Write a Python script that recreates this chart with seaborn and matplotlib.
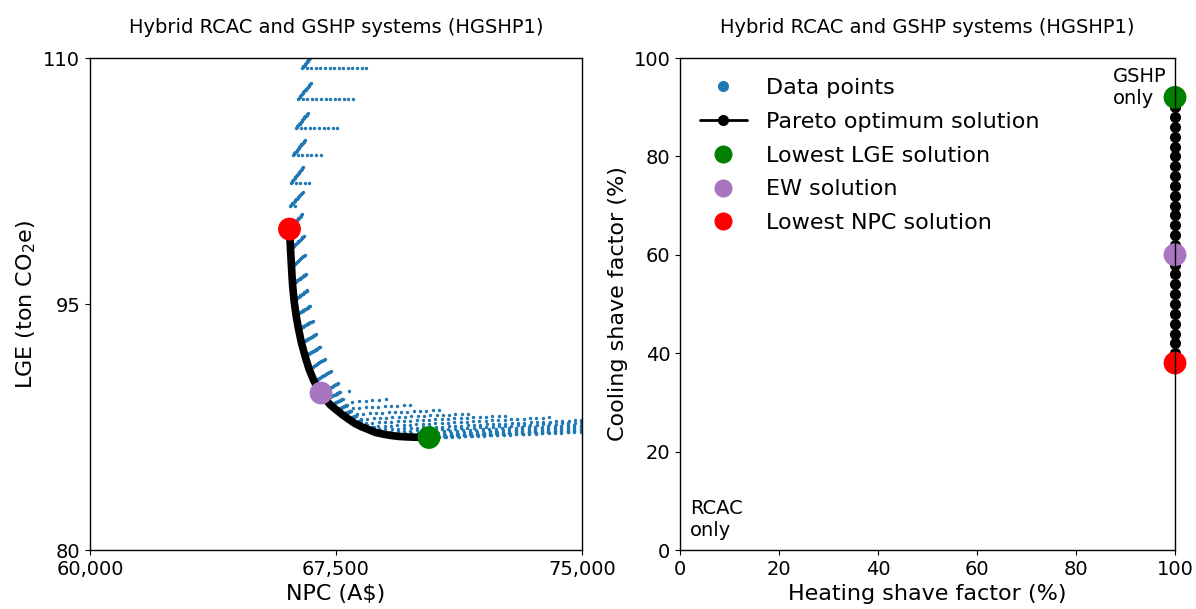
import numpy as np
import pandas as pd
import matplotlib
matplotlib.use("Agg")
import matplotlib.pyplot as plt
from matplotlib.lines import Line2D
import seaborn as sns

# ---------------------------------------------------------------------------
# Pareto optimum solutions (heating shave factor 100 %, cooling 38-92 %)
# ---------------------------------------------------------------------------
pareto_cooling = [38, 40, 42, 44, 46, 48, 50, 52, 54, 56, 58, 60, 62, 64,
                  66, 68, 70, 72, 74, 76, 78, 80, 82, 84, 86, 88, 90, 92]
pareto_heating = [100] * len(pareto_cooling)
pareto_npc = [66082, 66113, 66143, 66174, 66220, 66281, 66357, 66448, 66555,
              66677, 66829, 67043, 67174, 67326, 67506, 67686, 67875, 68064,
              68271, 68485, 68701, 68927, 69155, 69384, 69616, 69848, 70079,
              70335]
pareto_lge = [99.57, 98.35, 97.26, 96.22, 95.24, 94.33, 93.48, 92.62, 91.83,
              91.04, 90.30, 89.57, 89.20, 88.85, 88.55, 88.26, 87.99, 87.73,
              87.52, 87.35, 87.17, 87.07, 86.99, 86.93, 86.90, 86.88, 86.87,
              86.86]

# Highlighted solutions
solution_labels = ["Lowest LGE solution", "EW solution", "Lowest NPC solution"]
solution_heating = [100, 100, 100]
solution_cooling = [92, 60, 38]
solution_npc = [70335, 67043, 66082]
solution_lge = [86.86, 89.57, 99.57]

# ---------------------------------------------------------------------------
# Evaluated design points, one row per cooling shave factor:
# a dense stroke from its base point to its top point, plus a run of points
# ---------------------------------------------------------------------------
upper_base_npc = [66463, 66341, 66281, 66189, 66128, 66098]
upper_base_lge = [109.39, 107.50, 105.73, 104.08, 102.38, 100.98]

stroke_top_npc = [66799, 66738, 66646, 66555, 66494, 66494,
                  66463, 66524, 66540, 66585, 66631, 66707, 66784, 66890,
                  67012, 67165, 67348, 67561,
                  67622, 67713, 67835, 67957, 68110, 68262, 68445, 68659,
                  68841, 69055, 69268, 69482, 69695, 69909, 70152, 70396]
stroke_top_lge = [110.24, 108.48, 106.65, 105.00, 103.35, 101.83,
                  100.49, 99.15, 97.99, 96.83, 95.85, 94.88, 93.96, 93.17,
                  92.38, 91.65, 90.91, 90.18,
                  89.63, 89.21, 88.84, 88.48, 88.20, 87.90, 87.65, 87.47,
                  87.29, 87.16, 87.07, 86.98, 86.93, 86.91, 86.89, 86.87]

run_start_npc = [66603, 66481, 66421, 66329, 66268, 66238,
                 67896, 67988, 68018, 68140, 68262, 68415, 68598, 68811,
                 68994, 69207, 69421, 69634, 69817, 70030, 70244, 70457]
run_start_lge = [109.39, 107.50, 105.73, 104.08, 102.38, 100.98,
                 89.70, 89.05, 88.66, 88.29, 87.99, 87.74, 87.53, 87.35,
                 87.20, 87.07, 86.99, 86.91, 86.88, 86.88, 86.87, 86.86]
run_end_npc = [68423, 68021, 67541, 67029, 66688, 66238,
               67896, 69024, 69756, 70640, 71524, 72652, 73994, 75366,
               75549, 75549, 75549, 75549, 75549, 75549, 75549, 75549]
run_end_lge = [109.39, 107.50, 105.73, 104.08, 102.38, 100.98,
               89.70, 89.18, 88.84, 88.54, 88.32, 88.20, 88.08, 87.96,
               87.84, 87.71, 87.59, 87.50, 87.41, 87.35, 87.29, 87.24]
run_count = [14, 12, 9, 6, 4, 1,
             1, 6, 10, 14, 18, 23, 29, 35, 35, 33, 32, 31, 30, 29, 28, 27]

# Axis ticks
npc_ticks = [60000, 67500, 75000]
lge_ticks = [80, 95, 110]
factor_ticks = [0, 20, 40, 60, 80, 100]

TITLE = "Hybrid RCAC and GSHP systems (HGSHP1)"

# ---------------------------------------------------------------------------
# Build the point table
# ---------------------------------------------------------------------------
base_npc = upper_base_npc + pareto_npc
base_lge = upper_base_lge + pareto_lge
STROKE_STEPS = 18

pts_npc, pts_lge = [], []
for bx, by, tx, ty in zip(base_npc, base_lge, stroke_top_npc, stroke_top_lge):
    pts_npc.extend(np.linspace(bx, tx, STROKE_STEPS))
    pts_lge.extend(np.linspace(by, ty, STROKE_STEPS))
for sx, sy, ex, ey, n in zip(run_start_npc, run_start_lge,
                             run_end_npc, run_end_lge, run_count):
    pts_npc.extend(np.linspace(sx, ex, n))
    pts_lge.extend(np.linspace(sy, ey, n))
points = pd.DataFrame({"NPC": pts_npc, "LGE": pts_lge})

pareto = pd.DataFrame({"NPC": pareto_npc, "LGE": pareto_lge,
                       "Heating": pareto_heating, "Cooling": pareto_cooling})
solutions = pd.DataFrame({"label": solution_labels, "NPC": solution_npc,
                          "LGE": solution_lge, "Heating": solution_heating,
                          "Cooling": solution_cooling})

# ---------------------------------------------------------------------------
# Style
# ---------------------------------------------------------------------------
sns.set_style("ticks")
plt.rcParams.update({
    "font.family": ["DejaVu Sans"],
    "axes.edgecolor": "black",
    "axes.linewidth": 1.0,
    "xtick.color": "black",
    "ytick.color": "black",
    "text.color": "black",
    "axes.labelcolor": "black",
    "xtick.major.size": 3.5,
    "ytick.major.size": 3.5,
    "xtick.major.width": 0.8,
    "ytick.major.width": 0.8,
    "xtick.labelsize": 14,
    "ytick.labelsize": 14,
})

BLUE = "#1f77b4"
sol_palette = {"Lowest LGE solution": "#008000",
               "EW solution": "#a875c0",
               "Lowest NPC solution": "#ff0000"}

fig = plt.figure(figsize=(11.96, 6.09), dpi=100)
ax1 = fig.add_axes([90 / 1196, 59 / 609, 492 / 1196, 492 / 609])
ax2 = fig.add_axes([680 / 1196, 59 / 609, 495 / 1196, 492 / 609])

# ---- Left: LGE vs NPC ------------------------------------------------------
sns.scatterplot(data=points, x="NPC", y="LGE", s=6, color=BLUE,
                linewidth=0, ax=ax1, legend=False, zorder=1)
sns.lineplot(data=pareto, x="NPC", y="LGE", sort=False, estimator=None,
             color="black", linewidth=5.5, ax=ax1, zorder=2)
sns.scatterplot(data=solutions, x="NPC", y="LGE", hue="label",
                palette=sol_palette, s=270, linewidth=0, ax=ax1,
                legend=False, zorder=3)

ax1.set_xlim(npc_ticks[0], npc_ticks[-1])
ax1.set_ylim(lge_ticks[0], lge_ticks[-1])
ax1.set_xticks(npc_ticks)
ax1.set_xticklabels([f"{v:,}" for v in npc_ticks])
ax1.set_yticks(lge_ticks)
ax1.set_xlabel("NPC (A\\$)", fontsize=16)
ax1.set_ylabel("LGE (ton CO$_2$e)", fontsize=16)
ax1.set_title(TITLE, fontsize=14, pad=18)

# ---- Right: shave factors ---------------------------------------------------
sns.lineplot(data=pareto, x="Heating", y="Cooling", sort=False,
             estimator=None, color="black", linewidth=2, marker="o",
             markersize=8, markeredgewidth=0, ax=ax2, clip_on=False,
             zorder=2)
sns.scatterplot(data=solutions, x="Heating", y="Cooling", hue="label",
                palette=sol_palette, s=270, linewidth=0, ax=ax2,
                legend=False, clip_on=False, zorder=2.2)

ax2.set_xlim(0, 100)
ax2.set_ylim(0, 100)
ax2.set_xticks(factor_ticks)
ax2.set_yticks(factor_ticks)
ax2.set_xlabel("Heating shave factor (%)", fontsize=16)
ax2.set_ylabel("Cooling shave factor (%)", fontsize=16)
ax2.set_title(TITLE, fontsize=14, pad=18)

ax2.text(87.5, 98.2, "GSHP\nonly", ha="left", va="top", fontsize=14)
ax2.text(2, 2, "RCAC\nonly", ha="left", va="bottom", fontsize=14)

handles = [
    Line2D([], [], linestyle="none", marker="o", markersize=8,
           markeredgewidth=0, color=BLUE),
    Line2D([], [], color="black", linewidth=2, marker="o", markersize=8,
           markeredgewidth=0),
    Line2D([], [], linestyle="none", marker="o", markersize=13,
           markeredgewidth=0, color=sol_palette["Lowest LGE solution"]),
    Line2D([], [], linestyle="none", marker="o", markersize=13,
           markeredgewidth=0, color=sol_palette["EW solution"]),
    Line2D([], [], linestyle="none", marker="o", markersize=13,
           markeredgewidth=0, color=sol_palette["Lowest NPC solution"]),
]
labels = ["Data points", "Pareto optimum solution", "Lowest LGE solution",
          "EW solution", "Lowest NPC solution"]
ax2.legend(handles, labels, loc="upper left", frameon=False, fontsize=16,
           handlelength=2.1, handletextpad=0.85, labelspacing=0.62)

fig.savefig("out.png", dpi=100)
